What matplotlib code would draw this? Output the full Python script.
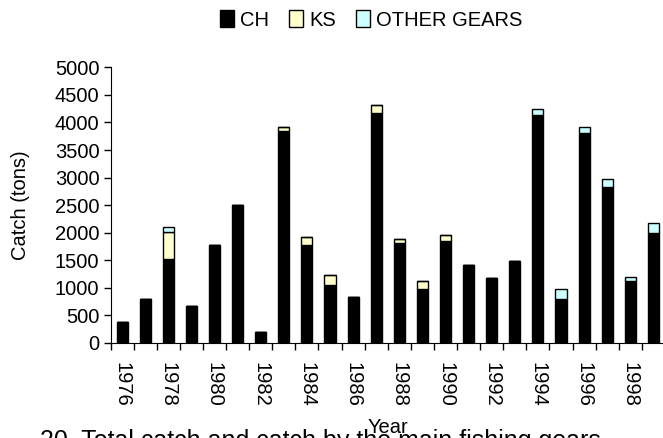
import numpy as np
import matplotlib
matplotlib.use("Agg")
import matplotlib.pyplot as plt
from matplotlib.patches import Patch
from matplotlib.ticker import FixedLocator

plt.rcParams['font.family'] = ['Liberation Sans', 'DejaVu Sans']

# catch by gear (tons)
years = list(range(1976, 2000))
ch = [375, 805, 1530, 665, 1785, 2505, 195, 3850, 1785, 1060, 840, 4165,
      1815, 980, 1845, 1420, 1170, 1495, 4135, 805, 3800, 2825, 1125, 2000]
ks = [0, 0, 485, 0, 0, 0, 0, 73, 145, 180, 0, 150,
      75, 150, 120, 0, 0, 0, 0, 0, 0, 0, 0, 0]
other = [0, 0, 90, 0, 0, 0, 0, 0, 0, 0, 0, 0,
         0, 0, 0, 0, 0, 0, 110, 180, 115, 150, 80, 185]

col_ch = 'black'
col_ks = '#FFFFCC'
col_ot = '#CCFFFF'

fig = plt.figure(figsize=(6.63, 4.38), dpi=100)
ax = fig.add_axes([110.5 / 663, 95 / 438, 554.5 / 663, 275.7 / 438])

x = np.arange(len(years))
w = 0.48
ch_a = np.array(ch)
ks_a = np.array(ks)
ot_a = np.array(other)
ax.bar(x, ch_a, w, color=col_ch, edgecolor='black', linewidth=1)
ax.bar(x, ks_a, w, bottom=ch_a, color=col_ks, edgecolor='black', linewidth=1)
ax.bar(x, ot_a, w, bottom=ch_a + ks_a, color=col_ot, edgecolor='black', linewidth=1)

ax.set_xlim(-0.5, len(years) - 0.5)
ax.set_ylim(0, 5000)
ax.set_yticks(np.arange(0, 5001, 500))
ax.tick_params(axis='y', direction='out', length=5, width=1, labelsize=14.5, pad=3)

# year labels every second bar, ticks between bars
ax.set_xticks(x[::2])
ax.set_xticklabels([str(y) for y in years[::2]], rotation=-90, fontsize=14.5)
ax.tick_params(axis='x', which='major', length=0, pad=14)
ax.xaxis.set_minor_locator(FixedLocator(np.arange(-0.5, len(years), 1)))
ax.tick_params(axis='x', which='minor', direction='out', length=5, width=1)

for s in ['top', 'right']:
    ax.spines[s].set_visible(False)

ax.set_ylabel('Catch (tons)', fontsize=14.5)
ax.yaxis.set_label_coords(-0.145, 0.5)
ax.set_xlabel('Year', fontsize=14.5)
ax.xaxis.set_label_coords(0.5, -0.272)

handles = [Patch(facecolor=col_ch, edgecolor='black', label='CH'),
           Patch(facecolor=col_ks, edgecolor='black', label='KS'),
           Patch(facecolor=col_ot, edgecolor='black', label='OTHER GEARS')]
fig.legend(handles=handles, loc='center', bbox_to_anchor=(371 / 663, 1 - 20 / 438),
           ncol=3, frameon=False, fontsize=14.5, handlelength=0.7, handleheight=0.9,
           handletextpad=0.3, columnspacing=1.0)

# figure caption, mostly cut off by the bottom edge as in the source
fig.text(40 / 663, -10 / 438, '20. Total catch and catch by the main fishing gears',
         fontsize=18, va='baseline', ha='left')

fig.savefig('out.png', dpi=100)
